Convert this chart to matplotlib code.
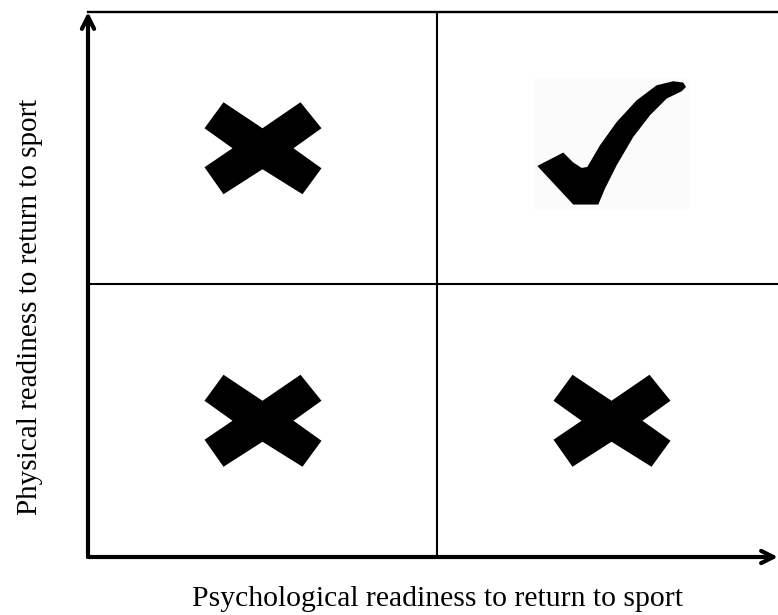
import numpy as np
import matplotlib
matplotlib.use("Agg")
import matplotlib.pyplot as plt
from matplotlib.patches import Polygon
from matplotlib.transforms import ScaledTranslation

# ---- data ----
x_label = "Psychological readiness to return to sport"
y_label = "Physical readiness to return to sport"
quad_x = [0.5, 1.5, 0.5, 1.5]          # psychological (low / high)
quad_y = [1.5, 1.5, 0.5, 0.5]          # physical (high / low)
quad_ok = [False, True, False, False]  # ready to return?

DPI = 100
fig = plt.figure(figsize=(7.78, 6.15), dpi=DPI)
W, H = 778, 615
L, R, T, B = 88, 786, 12, 557
ax = fig.add_axes([L / W, (H - B) / H, (R - L) / W, (B - T) / H])
ax.set_xlim(0, 2)
ax.set_ylim(0, 2)
ax.axis("off")

# symbol shapes (pixel offsets from the quadrant centre, y up)
x_shape = np.array([(-39, 46), (0, 20), (38, 46), (59, 20), (31, 0), (59, -20),
                    (40, -46), (0, -21), (-39, -46), (-58, -19), (-30, 0), (-58, 20)], float)
check_px = np.array([(573.3, 204.3), (537.3, 165.7), (563.3, 152.3), (573.3, 162.3),
                     (581.7, 167.7), (587.3, 166.7), (600, 145), (616.7, 121.7),
                     (636.7, 100), (656.7, 85), (673.3, 81), (683.3, 82.3),
                     (686, 86.7), (681.7, 91), (666.7, 98.3), (650, 115),
                     (633.3, 136.7), (616.7, 165), (605, 188.3), (598.3, 204.3)], float)
check_shape = np.column_stack([check_px[:, 0] - 611.5, 148 - check_px[:, 1]])
box_px = np.array([(534, 78), (689, 78), (689, 210), (534, 210)], float)
box_shape = np.column_stack([box_px[:, 0] - 611.5, 148 - box_px[:, 1]])


def add_symbol(shape, qx, qy, color):
    tr = fig.dpi_scale_trans + ScaledTranslation(qx, qy, ax.transData)
    ax.add_patch(Polygon(shape / DPI, closed=True, transform=tr,
                         facecolor=color, edgecolor="none", clip_on=False))


for qx, qy, ok in zip(quad_x, quad_y, quad_ok):
    if ok:
        add_symbol(box_shape, qx, qy, "#fbfbfb")
        add_symbol(check_shape, qx, qy, "black")
    else:
        add_symbol(x_shape, qx, qy, "black")

# grid lines
ax.axhline(1, color="black", lw=1.5)
ax.axvline(1, color="black", lw=1.5)
ax.axhline(2, color="black", lw=1.7, clip_on=False)

# axes with arrows
xend = (778 - L) / (R - L) * 2
ax.annotate("", xy=(xend, 0), xytext=(0, 0), xycoords="data",
            arrowprops=dict(arrowstyle="->", lw=3.0, color="black",
                            mutation_scale=22, shrinkA=0, shrinkB=0),
            annotation_clip=False)
ax.annotate("", xy=(0, 2.0), xytext=(0, 0), xycoords="data",
            arrowprops=dict(arrowstyle="->", lw=3.0, color="black",
                            mutation_scale=22, shrinkA=0, shrinkB=0),
            annotation_clip=False)

fig.text(437 / W, 1 - 599 / H, x_label, ha="center", va="center",
         fontsize=21.3, family="Liberation Serif")
fig.text(30 / W, 1 - 307 / H, y_label, ha="center", va="center",
         rotation=90, fontsize=21, family="Liberation Serif")

fig.savefig("out.png", dpi=DPI)
